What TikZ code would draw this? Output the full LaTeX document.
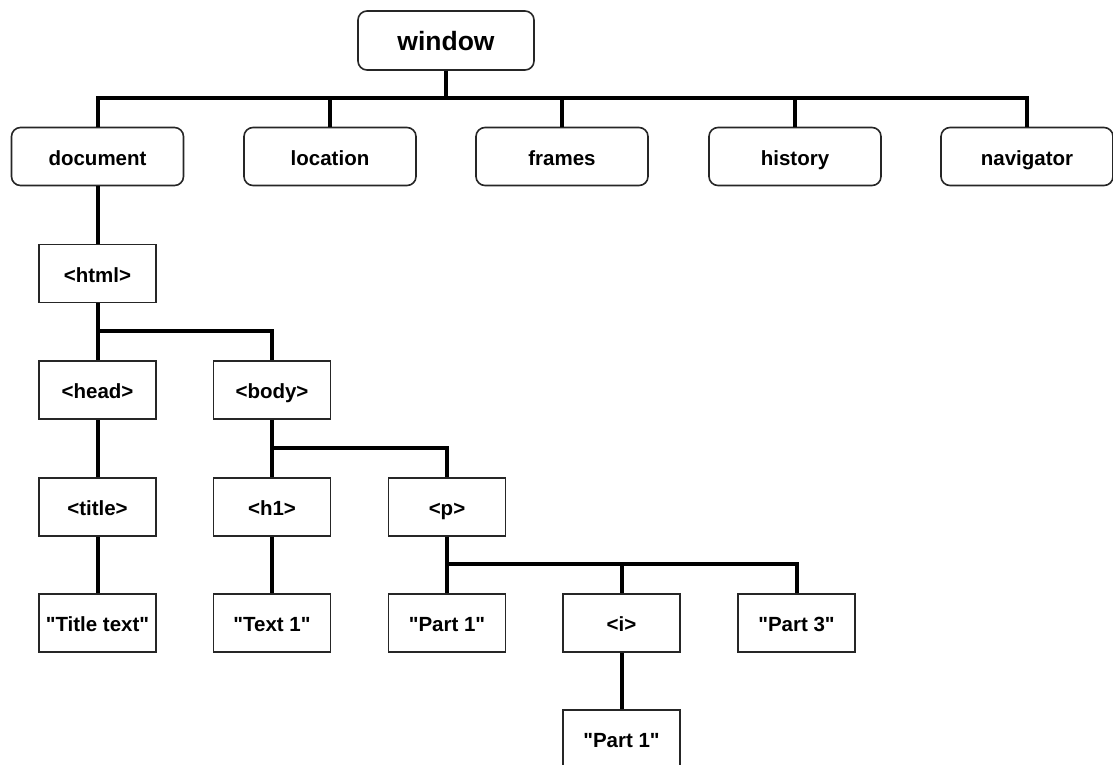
\documentclass[tikz,border=0pt]{standalone}
\usepackage{fontspec}
\setmainfont{Liberation Sans}
\newfontfamily\arialb{Liberation Sans}
\begin{document}
\begin{tikzpicture}[x=1pt,y=-1pt,
  box/.style={draw=black!85, line width=1.6pt, fill=white, inner sep=0pt,
    minimum width=117pt, minimum height=58pt,
    text height=17pt, text depth=0pt,
    font=\arialb\fontsize{20.5}{24}\selectfont\bfseries},
  rbox/.style={box, rounded corners=9pt, minimum width=172pt},
  link/.style={line width=4pt}]
\useasboundingbox (0,0) rectangle (1113,764);
% nodes
\node[rbox, minimum width=176pt, minimum height=59pt, text height=20.5pt, text depth=0pt,
  font=\arialb\fontsize{26.5}{30}\selectfont\bfseries] (window) at (446,40.5) {window};
\node[rbox] (document) at (97.5,156.5) {document};
\node[rbox] (location) at (330,156.5) {location};
\node[rbox] (frames) at (562,156.5) {frames};
\node[rbox] (history) at (795,156.5) {history};
\node[rbox] (navigator) at (1027,156.5) {navigator};
\node[box] (html) at (97.5,273.5) {<html>};
\node[box] (head) at (97.5,390) {<head>};
\node[box] (body) at (272,390) {<body>};
\node[box] (title) at (97.5,507) {<title>};
\node[box] (h1) at (272,507) {<h1>};
\node[box] (p) at (447,507) {<p>};
\node[box] (ttext) at (97.5,623) {"Title text"};
\node[box] (text1) at (272,623) {"Text 1"};
\node[box] (part1) at (447,623) {"Part 1"};
\node[box] (i) at (621.5,623) {<i>};
\node[box] (part3) at (796.5,623) {"Part 3"};
\node[box] (part1b) at (621.5,739) {"Part 1"};
% connectors
\foreach \c in {document,location,frames,history,navigator}
  \draw[link] (window.south) -- ++(0,27) -| (\c.north);
\draw[link] (document.south) -- (html.north);
\foreach \c in {head,body}
  \draw[link] (html.south) -- ++(0,28) -| (\c.north);
\draw[link] (head.south) -- (title.north);
\draw[link] (title.south) -- (ttext.north);
\foreach \c in {h1,p}
  \draw[link] (body.south) -- ++(0,28) -| (\c.north);
\draw[link] (h1.south) -- (text1.north);
\foreach \c in {part1,i,part3}
  \draw[link] (p.south) -- ++(0,27) -| (\c.north);
\draw[link] (i.south) -- (part1b.north);
\end{tikzpicture}
\end{document}
